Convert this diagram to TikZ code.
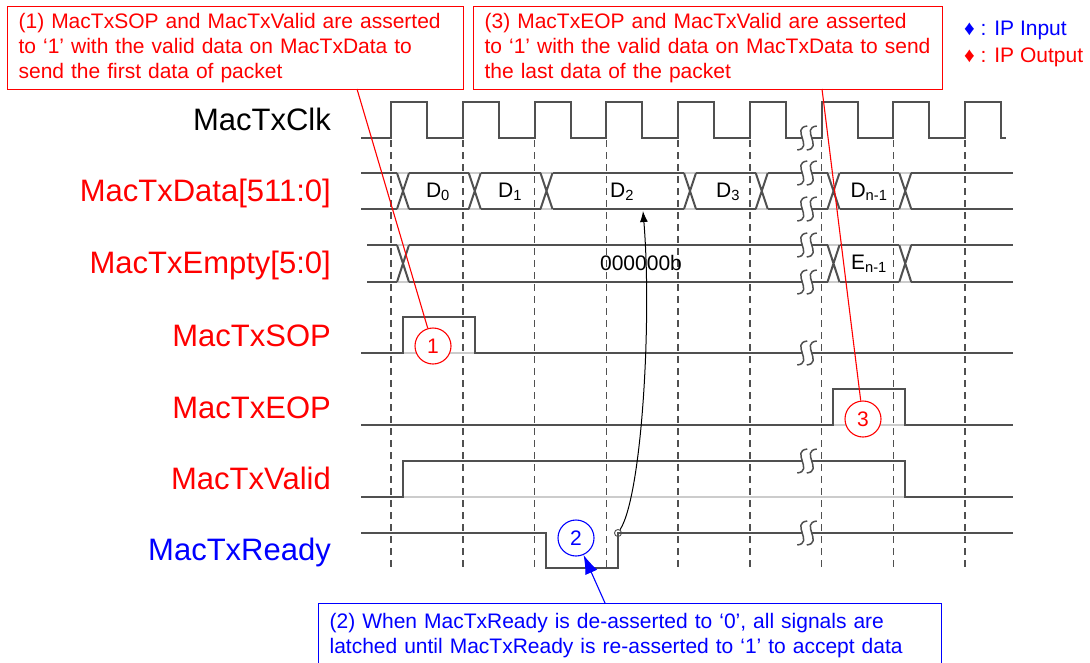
\documentclass[tikz,border=0pt]{standalone}
\usepackage{fontspec}
\setmainfont{Liberation Sans}
\usetikzlibrary{arrows.meta,positioning,calc}

\definecolor{ipred}{HTML}{FF0000}
\definecolor{ipblue}{HTML}{0000FF}
\definecolor{wavegray}{HTML}{505050}

% cut mark on a waveform: two S strokes, white in between
\newcommand\wavebreak[2]{%
  \fill[white]
    (#1+0.25,#2-12) .. controls (#1-16.75,#2-10) and (#1+7.25,#2+10) .. (#1-9.75,#2+12)
    -- (#1-0.25,#2+12) .. controls (#1+16.75,#2+10) and (#1-7.25,#2-10) .. (#1+9.75,#2-12)
    -- cycle;
  \draw[draw=wavegray, line width=1.5pt]
    (#1+0.25,#2-12) .. controls (#1-16.75,#2-10) and (#1+7.25,#2+10) .. (#1-9.75,#2+12)
    (#1+9.75,#2-12) .. controls (#1-7.25,#2-10) and (#1+16.75,#2+10) .. (#1-0.25,#2+12);
}

\begin{document}
\begin{tikzpicture}[
  x=1pt, y=-1pt,
  >={Latex[length=11pt,width=8pt]},
  line join=miter,
  wave/.style={
    draw=wavegray,
    line width=2pt
  },
  ghost/.style={
    draw=black!20,
    line width=2pt
  },
  gridline/.style={
    draw=wavegray,
    line width=1.5pt,
    dash pattern=on 7pt off 5pt
  },
  sig/.style={
    anchor=base east,
    inner sep=0pt,
    font=\fontsize{31}{33}\selectfont
  },
  val/.style={
    inner sep=0pt,
    font=\fontsize{21}{23}\selectfont
  },
  note/.style={
    draw,
    line width=1.2pt,
    anchor=north west,
    align=left,
    inner xsep=11pt,
    inner ysep=0pt,
    font=\fontsize{21}{25}\selectfont
  },
  badge/.style={
    circle,
    draw,
    fill=white,
    line width=1.1pt,
    minimum size=36pt,
    inner sep=0pt,
    font=\fontsize{21}{21}\selectfont
  },
  lead/.style={
    line width=1.1pt
  },
  legend/.style={
    anchor=base west,
    inner sep=0pt,
    font=\fontsize{21}{23}\selectfont
  }
]
\useasboundingbox[fill=white] (0,0) rectangle (1090,662);

% Signal names
\node[sig]              (clk)   at (331,130) {MacTxClk};
\node[sig, text=ipred]  (data)  at (331,201) {MacTxData[511:0]};
\node[sig, text=ipred]  (empty) at (331,273) {MacTxEmpty[5:0]};
\node[sig, text=ipred]  (sop)   at (331,346) {MacTxSOP};
\node[sig, text=ipred]  (eop)   at (331,418) {MacTxEOP};
\node[sig, text=ipred]  (valid) at (331,489) {MacTxValid};
\node[sig, text=ipblue] (ready) at (331,560) {MacTxReady};

% Clock edges
\foreach \k in {0,...,8}
  \draw[gridline] (391+71.75*\k,140) -- (391+71.75*\k,568);

\draw[wave] (361,138)
  \foreach \k in {0,...,8} { -- (391+71.75*\k,138) -- ++(0,-36) -- ++(36,0) -- ++(0,36) }
  -- (1006,138);

% MacTxData bus
\draw[ghost] (361,173) -- (1013,173) (361,209) -- (1013,209);
\foreach \a/\b in {361/397, 409/468.75, 480.75/540.5, 552.5/684, 696/755.75,
                   767.75/827.5, 839.5/899.25, 911.25/1013}
  \draw[wave] (\a,173) -- (\b,173) (\a,209) -- (\b,209);
\foreach \k in {0,1,2,4,5,6,7}
  \draw[wave] (397+71.75*\k,173) -- ++(12,36) (397+71.75*\k,209) -- ++(12,-36);

% MacTxEmpty bus
\draw[ghost] (367,245) -- (1013,245) (367,282) -- (1013,282);
\foreach \a/\b in {367/397, 409/827.5, 839.5/899.25, 911.25/1013}
  \draw[wave] (\a,245) -- (\b,245) (\a,282) -- (\b,282);
\foreach \k in {0,6,7}
  \draw[wave] (397+71.75*\k,245) -- ++(12,37) (397+71.75*\k,282) -- ++(12,-37);

% Control signals
\draw[ghost] (403,353) -- (475,353);
\draw[wave] (361,353) -- (403,353) -- (403,317) -- (475,317) -- (475,353) -- (1013,353);

\draw[ghost] (833,425) -- (905,425);
\draw[wave] (361,425) -- (833,425) -- (833,389) -- (905,389) -- (905,425) -- (1013,425);

\draw[ghost] (403,497) -- (905,497);
\draw[wave] (361,497) -- (403,497) -- (403,461) -- (905,461) -- (905,497) -- (1013,497);

\draw[wave] (361,533) -- (546,533) -- (546,568) -- (618,568) -- (618,533) -- (1013,533);

% Time breaks
\foreach \y in {138,173,209,245,282,353,461,533} {
  \wavebreak{807}{\y}
}

% Bus values
\node[val] (d0)  at (438,192) {D\textsubscript{0}};
\node[val] (d1)  at (510,192) {D\textsubscript{1}};
\node[val] (d2)  at (622,192) {D\textsubscript{2}};
\node[val] (d3)  at (728,192) {D\textsubscript{3}};
\node[val] (dn)  at (869,192) {D\textsubscript{n-1}};
\node[val] (e0)  at (641,263) {000000b};
\node[val] (en)  at (869,264) {E\textsubscript{n-1}};

% Ready back to data
\node[circle, draw=wavegray, line width=0.9pt, minimum size=7pt, inner sep=0pt] (rdy) at (618,533) {};
\coordinate (d2foot) at (643,211);
\draw[->, line width=1pt] (rdy) .. controls (642,495) and (652,320) .. (d2foot);

% Callouts
\node[note, draw=ipred, text=ipred, minimum width=456, minimum height=83, text width=434]
  (note1) at (7,6)
  {(1) MacTxSOP and MacTxValid are asserted\\to ‘1’ with the valid data on MacTxData to\\send the first data of packet};
\node[note, draw=ipred, text=ipred, minimum width=469, minimum height=83, text width=447]
  (note3) at (473,6)
  {(3) MacTxEOP and MacTxValid are asserted\\to ‘1’ with the valid data on MacTxData to send\\the last data of the packet};
\node[note, draw=ipblue, text=ipblue, minimum width=623, minimum height=64, text width=601]
  (note2) at (318,603)
  {(2) When MacTxReady is de-asserted to ‘0’, all signals are\\latched until MacTxReady is re-asserted to ‘1’ to accept data};

\node[badge, draw=ipred, text=ipred]   (one)   at (433,346) {1};
\node[badge, draw=ipblue, text=ipblue] (two)   at (576,538) {2};
\node[badge, draw=ipred, text=ipred]   (three) at (863,419) {3};

\coordinate (n1foot) at (357,89);
\coordinate (n3foot) at (822,89);
\coordinate (n2top)  at (605,603);
\draw[lead, draw=ipred] (n1foot) -- (one);
\draw[lead, draw=ipred] (n3foot) -- (three);
\draw[lead, draw=ipblue, -{Latex[length=19pt,width=13pt]}] (n2top) -- (two);

% Legend
\node[legend, text=ipblue] (legin)  at (964,35) {♦ : IP Input};
\node[legend, text=ipred]  (legout) at (964,62) {♦ : IP Output};

\end{tikzpicture}
\end{document}
